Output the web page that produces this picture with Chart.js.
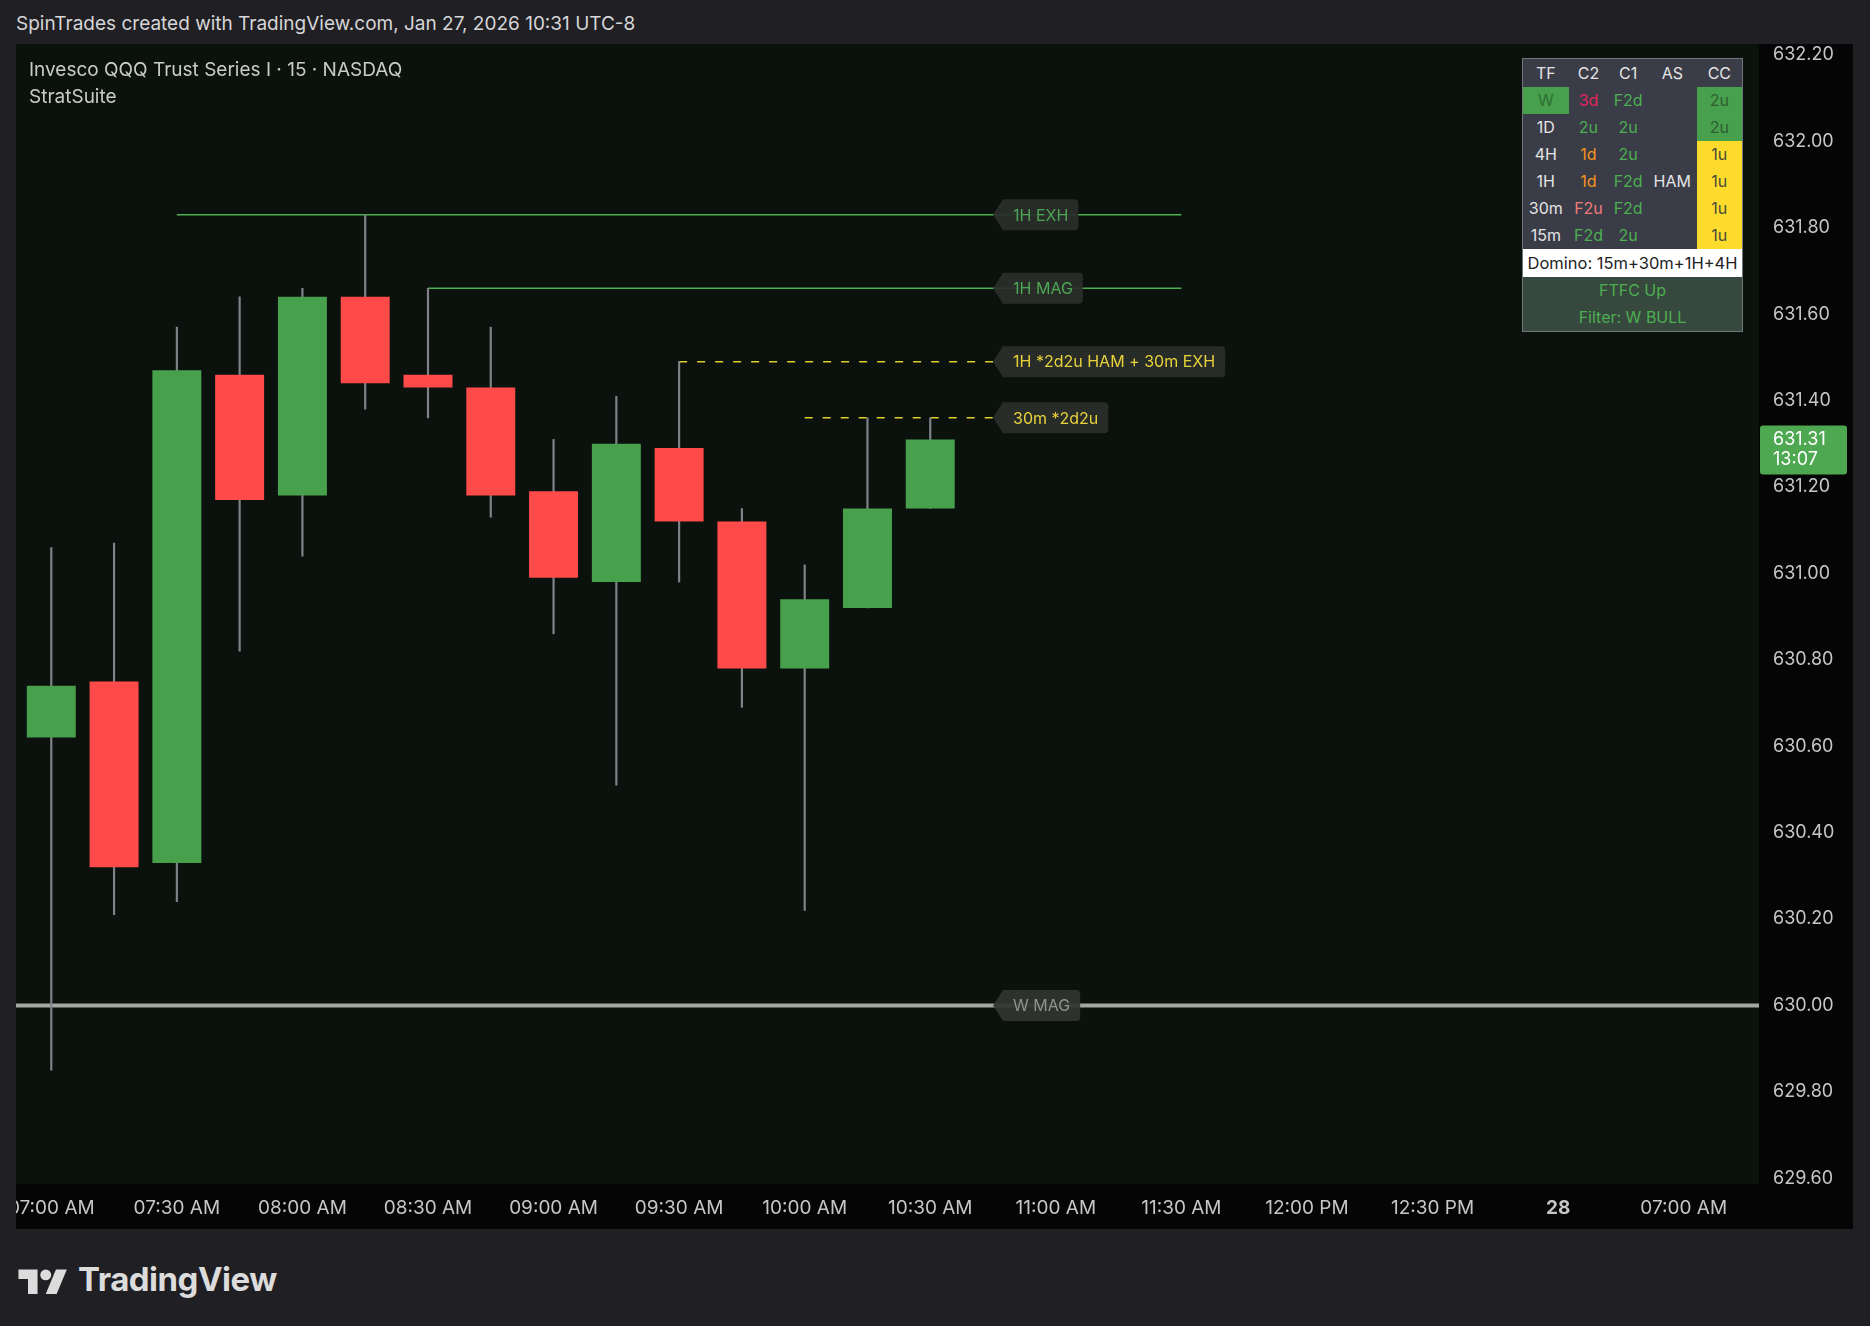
<!DOCTYPE html>
<html>
<head>
<meta charset="utf-8">
<title>QQQ 15 - StratSuite</title>
<script src="https://cdn.jsdelivr.net/npm/chart.js@4.4.1/dist/chart.umd.min.js"></script>
<style>
	html, body { margin: 0; padding: 0; }
	body {
		width: 1870px;
		height: 1326px;
		background: #201f23;
		font-family: Inter, "Noto Sans", sans-serif;
		position: relative;
		overflow: hidden;
	}
	.top-note {
		position: absolute; left: 16px; top: 12px;
		color: #d6d6d8; font-size: 19px;
	}
	.panel {
		position: absolute; left: 16px; top: 44px;
		width: 1837px; height: 1185px;
	}
	.panel canvas { display: block; }
	.title {
		position: absolute; left: 13px; top: 12px;
		color: #c9ccc9; font-size: 19px; line-height: 27px;
	}
	.strat-table {
		position: absolute; left: 1506px; top: 14px;
		width: 221px;
		border-collapse: collapse;
		border: 1px solid #70777a;
		background: #3a3c47;
		font-size: 16px;
		color: #e4e4e4;
		text-align: center;
	}
	.strat-table td { padding: 0; height: 27px; line-height: 27px; }
	.strat-table tr.head td { height: 28px; }
	.strat-table td.tf { width: 46px; }
	.strat-table td.c { width: 40px; }
	.strat-table td.as { width: 49px; }
	.strat-table td.cc { width: 46px; }
	.g-cell { background: #47a04c; }
	.y-cell { background: #fddb2c; }
	.strat-table td.domino { background: #ffffff; color: #222; font-size: 16.5px; height: 28px; }
	.strat-table td.ftfc { background: #37483e; color: #4caf50; height: 27px; }
	.footer {
		position: absolute; left: 18px; top: 1259px;
		display: flex; align-items: center; gap: 10px;
		color: #dcdcdc;
	}
	.footer span { font-size: 33px; font-weight: 700; letter-spacing: -0.5px; }
</style>
</head>
<body>
<div class="top-note">SpinTrades created with TradingView.com, Jan 27, 2026 10:31 UTC-8</div>

<div class="panel">
	<canvas id="chart" width="1837" height="1185"></canvas>
	<div class="title">Invesco QQQ Trust Series I · 15 · NASDAQ<br>StratSuite</div>
	<table class="strat-table" id="stratTable"></table>
</div>

<div class="footer">
	<svg width="50" height="30" viewBox="0 0 36 22">
		<path d="M14 22H7V11H0V4h14v18z" fill="#dcdcdc"/>
		<circle cx="20" cy="8" r="4" fill="#dcdcdc"/>
		<path d="M28 22h-8l7.5-18h8L28 22z" fill="#dcdcdc"/>
	</svg>
	<span>TradingView</span>
</div>

<script>
// 15m candles, 07:00 -> 10:30
const opens  = [630.62, 630.75, 630.33, 631.46, 631.18, 631.64, 631.46, 631.43, 631.19, 630.98, 631.29, 631.12, 630.78, 630.92, 631.15];
const highs  = [631.06, 631.07, 631.57, 631.64, 631.66, 631.83, 631.66, 631.57, 631.31, 631.41, 631.49, 631.15, 631.02, 631.36, 631.36];
const lows   = [629.85, 630.21, 630.24, 630.82, 631.04, 631.38, 631.36, 631.13, 630.86, 630.51, 630.98, 630.69, 630.22, 630.92, 631.15];
const closes = [630.74, 630.32, 631.47, 631.17, 631.64, 631.44, 631.43, 631.18, 630.99, 631.30, 631.12, 630.78, 630.94, 631.15, 631.31];

// time axis: bar index -> label
const timeTickIdx = [0, 2, 4, 6, 8, 10, 12, 14, 16, 18, 20, 22, 24, 26];
const timeLabels  = ['07:00 AM', '07:30 AM', '08:00 AM', '08:30 AM', '09:00 AM', '09:30 AM', '10:00 AM',
	'10:30 AM', '11:00 AM', '11:30 AM', '12:00 PM', '12:30 PM', '28', '07:00 AM'];

const priceTicks = [629.6, 629.8, 630.0, 630.2, 630.4, 630.6, 630.8, 631.0, 631.2, 631.4, 631.6, 631.8, 632.0, 632.2];

// strat levels
const levelNames  = ['1H EXH', '1H MAG', '1H *2d2u HAM + 30m EXH', '30m *2d2u', 'W MAG'];
const levelPrices = [631.83, 631.66, 631.49, 631.36, 630.00];
const levelFrom   = [2, 6, 10, 12, -1];
const levelTo     = [18, 18, 15, 15, 28];

const countdown = '13:07';

// table
const tableHead = ['TF', 'C2', 'C1', 'AS', 'CC'];
const tableTF   = ['W', '1D', '4H', '1H', '30m', '15m'];
const tableC2   = ['3d', '2u', '1d', '1d', 'F2u', 'F2d'];
const tableC1   = ['F2d', '2u', '2u', 'F2d', 'F2d', '2u'];
const tableAS   = ['', '', '', 'HAM', '', ''];
const tableCC   = ['2u', '2u', '1u', '1u', '1u', '1u'];
const dominoText = 'Domino: 15m+30m+1H+4H';
const ftfcText   = 'FTFC Up';
const filterText = 'Filter: W BULL';

const UP = '#47a04c';
const DOWN = '#ff4a4a';
const WICK = '#80848a';

const levelStyles = [
	{color: '#4caf50', text: '#4ea553', width: 1.5, dash: []},
	{color: '#4caf50', text: '#4ea553', width: 1.5, dash: []},
	{color: '#e3cf2c', text: '#e8d23a', width: 1.5, dash: [8, 10]},
	{color: '#e3cf2c', text: '#e8d23a', width: 1.5, dash: [8, 10]},
	{color: '#a3a8a3', text: '#8e938f', width: 4, dash: []},
];

function stratColor(v)
{
	if (v === '3d') return '#e5245e';
	if (v === 'F2u') return '#f07a7a';
	if (v === '1d') return '#f5941e';
	if (v === '2u' || v === 'F2d') return '#4caf50';
	return '#e4e4e4';
}

function renderTable()
{
	const table = document.getElementById('stratTable');
	let html = '<tr class="head">' + tableHead.map((h, i) => {
		const cls = ['tf', 'c', 'c', 'as', 'cc'][i];
		return `<td class="${cls}">${h}</td>`;
	}).join('') + '</tr>';

	tableTF.forEach((tf, i) => {
		const tfCls = i === 0 ? 'tf g-cell' : 'tf';
		const tfColor = i === 0 ? '#2f6e33' : '#e4e4e4';
		const ccCls = tableCC[i] === '2u' ? 'cc g-cell' : 'cc y-cell';
		const ccColor = tableCC[i] === '2u' ? '#2f5e33' : '#4a4a3a';
		html += `<tr>
			<td class="${tfCls}" style="color:${tfColor}">${tf}</td>
			<td class="c" style="color:${stratColor(tableC2[i])}">${tableC2[i]}</td>
			<td class="c" style="color:${stratColor(tableC1[i])}">${tableC1[i]}</td>
			<td class="as">${tableAS[i]}</td>
			<td class="${ccCls}" style="color:${ccColor}">${tableCC[i]}</td>
		</tr>`;
	});

	html += `<tr><td class="domino" colspan="5">${dominoText}</td></tr>`;
	html += `<tr><td class="ftfc" colspan="5">${ftfcText}</td></tr>`;
	html += `<tr><td class="ftfc" colspan="5">${filterText}</td></tr>`;
	table.innerHTML = html;
}

const backgroundPlugin = {
	id: 'background',
	beforeDraw(chart) {
		const {ctx, chartArea} = chart;
		ctx.save();
		ctx.fillStyle = '#050505';
		ctx.fillRect(0, 0, chart.width, chart.height);
		ctx.fillStyle = '#0b110d';
		ctx.fillRect(chartArea.left, chartArea.top, chartArea.right - chartArea.left, chartArea.bottom - chartArea.top);
		ctx.restore();
	}
};

const levelLabelPlugin = {
	id: 'levelLabels',
	afterDatasetsDraw(chart) {
		const {ctx, scales} = chart;
		const tipX = scales.x.getPixelForValue(15);
		ctx.save();
		ctx.font = '16px Inter, "Noto Sans", sans-serif';
		ctx.textBaseline = 'middle';
		levelNames.forEach((name, i) => {
			const y = scales.y.getPixelForValue(levelPrices[i]);
			const w = ctx.measureText(name).width + 20;
			const left = tipX + 10;
			const h = 31;
			const top = y - h / 2;
			const r = 4;
			ctx.fillStyle = i === 4 ? 'rgba(48,53,50,0.95)' : 'rgba(42,46,44,0.93)';
			ctx.beginPath();
			ctx.moveTo(tipX, y);
			ctx.lineTo(left, top);
			ctx.lineTo(left + w - r, top);
			ctx.quadraticCurveTo(left + w, top, left + w, top + r);
			ctx.lineTo(left + w, top + h - r);
			ctx.quadraticCurveTo(left + w, top + h, left + w - r, top + h);
			ctx.lineTo(left, top + h);
			ctx.closePath();
			ctx.fill();
			ctx.fillStyle = levelStyles[i].text;
			ctx.fillText(name, left + 10, y + 1);
		});
		ctx.restore();
	}
};

const priceTagPlugin = {
	id: 'priceTag',
	afterDraw(chart) {
		const {ctx, scales, chartArea} = chart;
		const last = closes[closes.length - 1];
		const y = scales.y.getPixelForValue(last);
		const left = chartArea.right + 1;
		const top = y - 14;
		ctx.save();
		ctx.fillStyle = '#4ea852';
		ctx.beginPath();
		ctx.roundRect(left, top, 87, 49, 3);
		ctx.fill();
		ctx.fillStyle = '#ffffff';
		ctx.font = '18px Inter, "Noto Sans", sans-serif';
		ctx.textBaseline = 'middle';
		ctx.fillText(last.toFixed(2), left + 13, y);
		ctx.fillText(countdown, left + 13, y + 20);
		ctx.restore();
	}
};

renderTable();

const idx = opens.map((_, i) => i);

const levelDatasets = levelNames.map((name, i) => ({
	type: 'line',
	label: name,
	data: [{x: levelFrom[i], y: levelPrices[i]}, {x: levelTo[i], y: levelPrices[i]}],
	borderColor: levelStyles[i].color,
	borderWidth: levelStyles[i].width,
	borderDash: levelStyles[i].dash,
	pointRadius: 0,
	fill: false,
	clip: 0,
	order: 3,
}));

new Chart(document.getElementById('chart'), {
	type: 'bar',
	data: {
		datasets: [
			{
				label: 'wick',
				data: idx.map(i => ({x: i, y: [lows[i], highs[i]]})),
				backgroundColor: WICK,
				barThickness: 1.5,
				grouped: false,
				order: 2,
			},
			{
				label: 'body',
				data: idx.map(i => ({x: i, y: [opens[i], closes[i]]})),
				backgroundColor: ctx => closes[ctx.dataIndex] >= opens[ctx.dataIndex] ? UP : DOWN,
				barPercentage: 0.78,
				categoryPercentage: 1,
				grouped: false,
				order: 1,
			},
			...levelDatasets
		]
	},
	options: {
		responsive: false,
		animation: false,
		layout: {padding: 0},
		plugins: {
			legend: {display: false},
			tooltip: {enabled: false},
		},
		scales: {
			x: {
				type: 'linear',
				min: -0.562,
				max: 27.2,
				offset: false,
				grid: {display: false, drawTicks: false},
				border: {display: false},
				afterBuildTicks: scale => {
					scale.ticks = timeTickIdx.map(v => ({value: v}));
				},
				afterFit: scale => {
					scale.height = 45;
					scale.paddingLeft = 0;
					scale.paddingRight = 0;
				},
				ticks: {
					autoSkip: false,
					maxRotation: 0,
					padding: 13,
					color: '#c6c6c6',
					font: ctx => ({
						family: 'Inter, "Noto Sans", sans-serif',
						size: 19,
						weight: ctx.tick && ctx.tick.label === '28' ? 'bold' : 'normal',
					}),
					callback: value => timeLabels[timeTickIdx.indexOf(value)],
				},
			},
			y: {
				position: 'right',
				min: 629.5868,
				max: 632.2252,
				grid: {display: false, drawTicks: false},
				border: {display: false},
				afterBuildTicks: scale => {
					scale.ticks = priceTicks.map(v => ({value: v}));
				},
				afterFit: scale => {
					scale.width = 94;
					scale.paddingTop = 0;
					scale.paddingBottom = 0;
				},
				ticks: {
					padding: 14,
					color: '#c6c6c6',
					font: {family: 'Inter, "Noto Sans", sans-serif', size: 18},
					callback: value => value.toFixed(2),
				},
			},
		},
	},
	plugins: [backgroundPlugin, levelLabelPlugin, priceTagPlugin],
});
</script>
</body>
</html>
